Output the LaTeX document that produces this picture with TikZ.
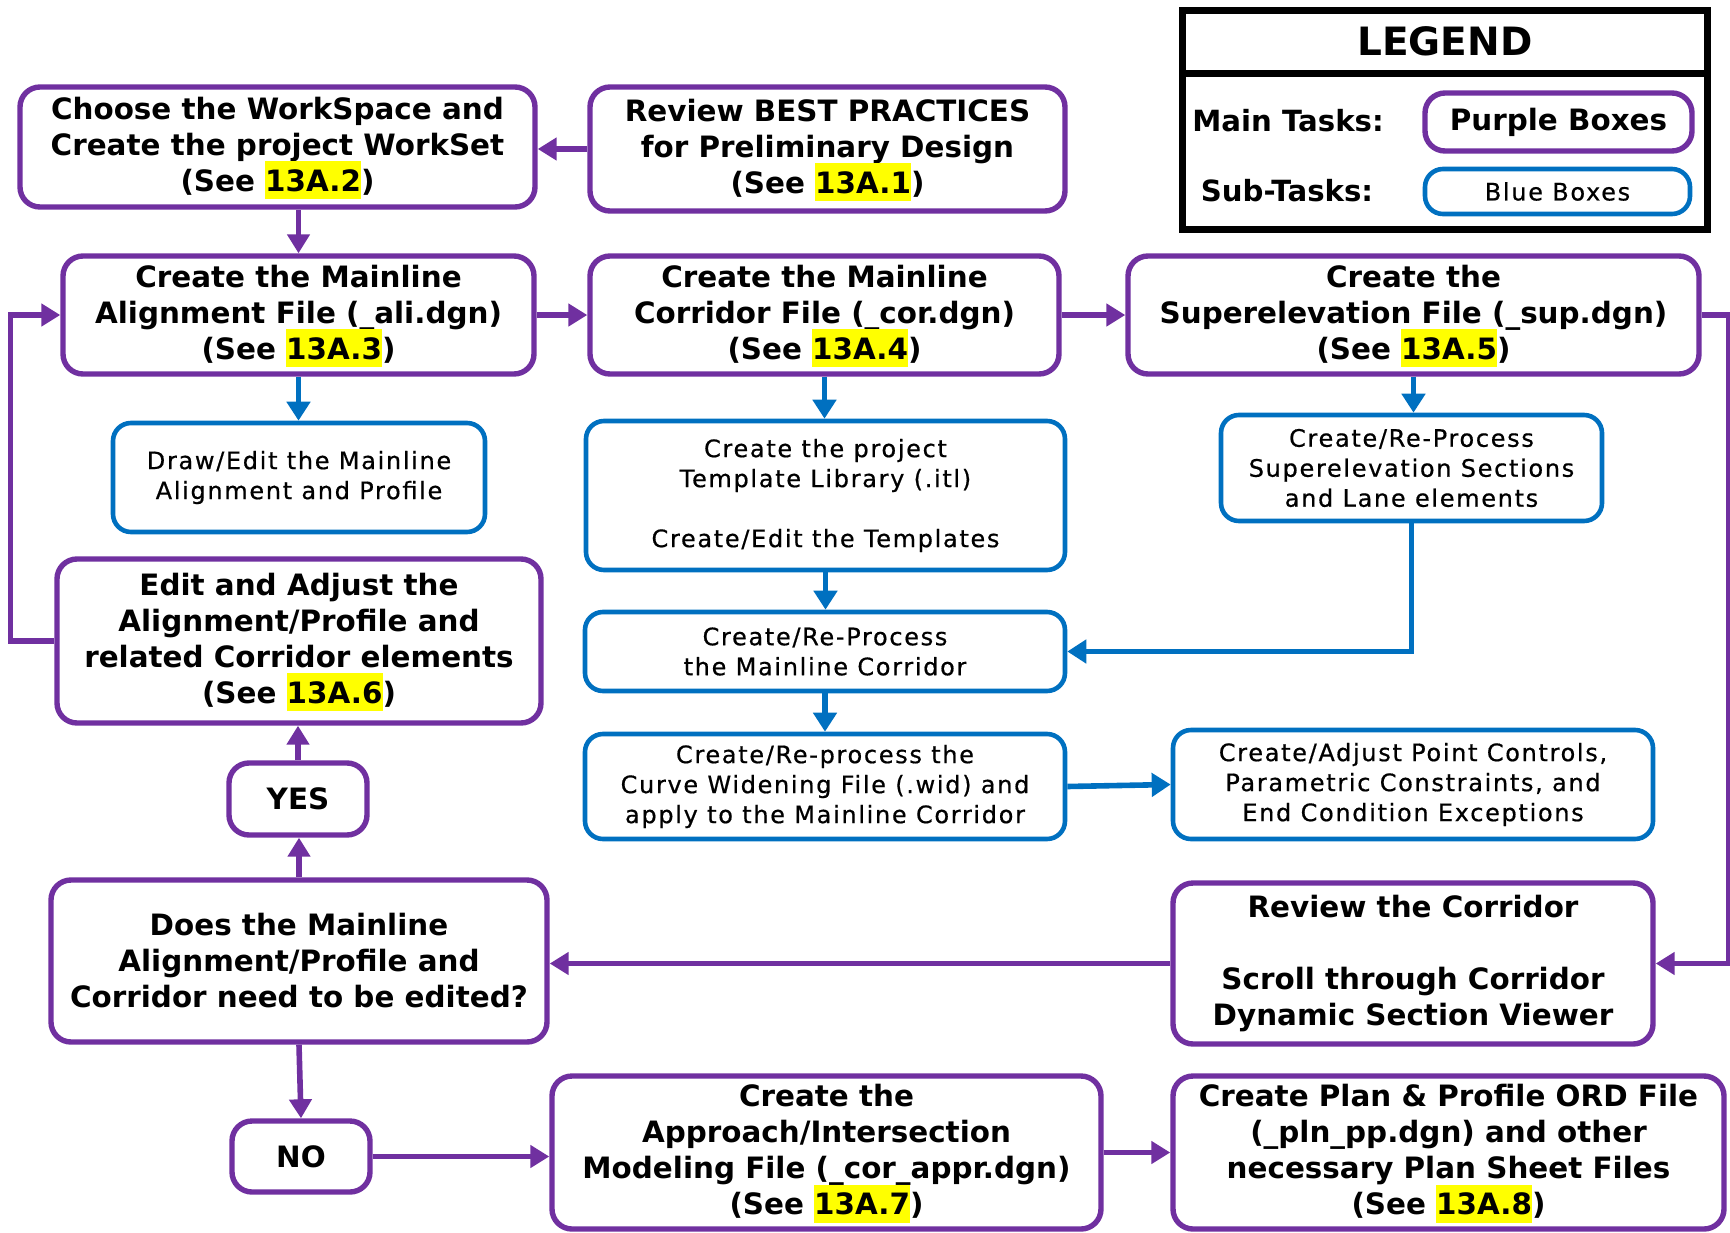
\documentclass[tikz,border=0pt]{standalone}
\usepackage{fontspec}
\setmainfont{DejaVu Sans}
\newfontfamily\bluefont[LetterSpace=7,FakeBold=0.6]{DejaVu Sans}
\usetikzlibrary{arrows.meta}
\definecolor{ppl}{HTML}{7030A0}
\definecolor{blu}{HTML}{0070C0}
\definecolor{hly}{HTML}{FFFF00}
\newcommand{\hl}[1]{\raisebox{0pt}[0.72em][0.2em]{\setlength{\fboxsep}{0pt}\colorbox{hly}{\rule[-0.28em]{0pt}{1.3em}#1}}}
\newcommand{\bx}[7]{\node[#1, minimum width={(#5-#3)*0.5pt}, minimum height={(#6-#4)*0.5pt}] (#2) at ({(#3+#5)/2},{(#4+#6)/2}) {#7};}
\tikzset{
  pbox/.style={draw=ppl, line width=2.7pt, rounded corners=10pt, fill=white, inner sep=0pt, align=center, font=\fontsize{14.7}{18}\selectfont\bfseries},
  bbox/.style={draw=blu, line width=2.3pt, rounded corners=9pt, fill=white, inner sep=0pt, align=center, font=\bluefont\fontsize{12}{15}\selectfont},
  parr/.style={draw=ppl, line width=2.8pt, -{Triangle[length=9.5pt,width=11pt]}},
  barr/.style={draw=blu, line width=2.8pt, -{Triangle[length=9.5pt,width=11.5pt]}},
}
\begin{document}
\begin{tikzpicture}[x=0.5pt,y=-0.5pt]
\useasboundingbox (0,0) rectangle (1730,1232);
% legend
\draw[line width=3.5pt] (1182,10) rectangle (1707,229);
\draw[line width=3.5pt] (1182,73) -- (1707,73);
\node[font=\fontsize{19.5}{22}\selectfont\bfseries] (legt) at (1445,41) {LEGEND};
\node[font=\fontsize{14.6}{18}\selectfont\bfseries] (legm) at (1288,121) {Main Tasks:};
\node[font=\fontsize{14.6}{18}\selectfont\bfseries] (legs) at (1287,191) {Sub-Tasks:};
\bx{pbox}{legp}{1425}{93}{1692}{151}{Purple Boxes}
\bx{bbox}{legb}{1425}{169}{1690}{214}{Blue Boxes}
% main boxes
\bx{pbox}{A}{20}{87}{535}{207}{Choose the WorkSpace and\\Create the project WorkSet\\(See \hl{13A.2})}
\bx{pbox}{B}{590}{87}{1065}{211}{Review BEST PRACTICES\\for Preliminary Design\\(See \hl{13A.1})}
\bx{pbox}{C}{63}{256}{534}{374}{Create the Mainline\\Alignment File (\_ali.dgn)\\(See \hl{13A.3})}
\bx{pbox}{D}{590}{256}{1059}{374}{Create the Mainline\\Corridor File (\_cor.dgn)\\(See \hl{13A.4})}
\bx{pbox}{E}{1128}{256}{1699}{374}{Create the\\Superelevation File (\_sup.dgn)\\(See \hl{13A.5})}
\bx{bbox}{F}{113}{423}{485}{532}{Draw/Edit the Mainline\\Alignment and Profile}
\bx{bbox}{G}{586}{421}{1065}{570}{Create the project\\Template Library (.itl)\\~\\Create/Edit the Templates}
\bx{bbox}{H}{1221}{415}{1602}{521}{Create/Re-Process\\Superelevation Sections\\and Lane elements}
\bx{bbox}{I}{585}{612}{1065}{691}{Create/Re-Process\\the Mainline Corridor}
\bx{bbox}{J}{585}{734}{1065}{839}{Create/Re-process the\\Curve Widening File (.wid) and\\apply to the Mainline Corridor}
\bx{bbox}{K}{1173}{730}{1653}{839}{Create/Adjust Point Controls,\\Parametric Constraints, and\\End Condition Exceptions}
\bx{pbox}{L}{57}{559}{541}{723}{Edit and Adjust the\\Alignment/Profile and\\related Corridor elements\\(See \hl{13A.6})}
\bx{pbox}{M}{229}{763}{367}{835}{YES}
\bx{pbox}{N}{51}{880}{547}{1042}{Does the Mainline\\Alignment/Profile and\\Corridor need to be edited?}
\bx{pbox}{O}{1173}{883}{1653}{1044}{Review the Corridor\\~\\Scroll through Corridor\\Dynamic Section Viewer}
\bx{pbox}{P}{232}{1121}{370}{1192}{NO}
\bx{pbox}{Q}{552}{1076}{1101}{1229}{Create the\\Approach/Intersection\\Modeling File (\_cor\_appr.dgn)\\(See \hl{13A.7})}
\bx{pbox}{R}{1173}{1076}{1724}{1229}{Create Plan \& Profile ORD File\\(\_pln\_pp.dgn) and other\\necessary Plan Sheet Files\\(See \hl{13A.8})}
% connectors
\draw[parr] (B.west) -- (B.west -| A.east);
\draw[parr] (A.south -| C.north) -- (C.north);
\draw[parr] (C.east) -- (D.west);
\draw[parr] (D.east) -- (E.west);
\draw[parr] (E.east) -- ++(27,0) |- (O.east);
\draw[barr] (C.south) -- (C.south |- F.north);
\draw[barr] (D.south) -- (D.south |- G.north);
\draw[barr] (G.south) -- (G.south |- I.north);
\draw[barr] (I.south) -- (I.south |- J.north);
\draw[barr] (E.south) -- (E.south |- H.north);
\draw[barr] (H.south) |- (I.east);
\draw[barr] (J.east) -- (K.west);
\draw[parr] (O.west) -- (O.west -| N.east);
\draw[parr] (N.north) -- (N.north |- M.south);
\draw[parr] (M.north) -- (M.north |- L.south);
\draw[parr] (L.west) -- ++(-44,0) |- (C.west);
\draw[parr] (N.south) -- (P.north);
\draw[parr] (P.east) -- (P.east -| Q.west);
\draw[parr] (Q.east) -- (Q.east -| R.west);
\end{tikzpicture}
\end{document}
